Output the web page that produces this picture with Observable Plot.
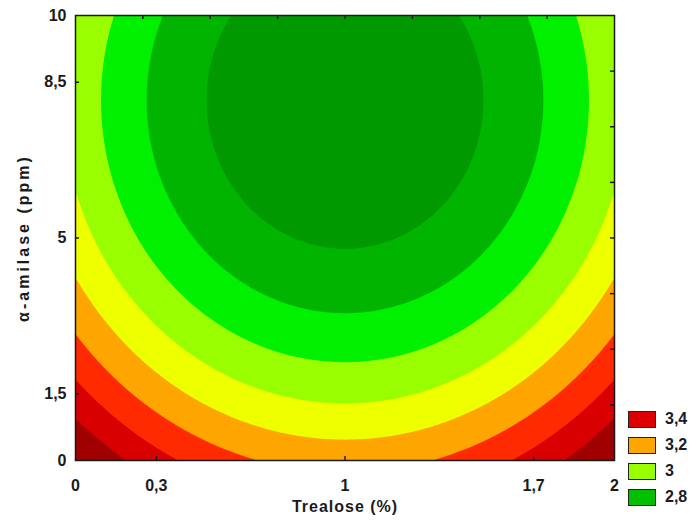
<!DOCTYPE html>
<html>
<head>
<meta charset="utf-8">
<script src="https://cdn.jsdelivr.net/npm/d3@7"></script>
<script src="https://cdn.jsdelivr.net/npm/@observablehq/plot@0.6"></script>
<style>
  html, body { margin: 0; background: #fff; overflow: hidden; }
  #wrap { position: relative; width: 697px; height: 522px; }
  #wrap svg { display: block; }
  .legend { position: absolute; left: 628px; top: 406px; font: bold 16px "Liberation Sans", Arial, sans-serif; color: #1a1a2a; }
  .item { display: flex; align-items: center; height: 26px; }
  .sw { width: 26px; height: 15px; border: 1.5px solid #222; margin-right: 9px; box-sizing: content-box; }
</style>
</head>
<body>
<div id="wrap"></div>
<script>
// Axis domains and ticks
const xDomain = [0, 2];
const yDomain = [0, 10];
const xTicks = [0, 0.3, 1, 1.7, 2];
const xTickLabels = ["0", "0,3", "1", "1,7", "2"];
const yTicks = [0, 1.5, 5, 8.5, 10];
const yTickLabels = ["0", "1,5", "5", "8,5", "10"];
const xInnerBottom = [0.3, 1, 1.7];
const xMinorTop = [0.25, 0.5, 0.75, 1, 1.25, 1.5, 1.75];
const yInnerLeft = [1.5, 5, 8.5];
const yMinorRight = [1.25, 2.5, 3.75, 5, 6.25, 7.5, 8.75];

// Fitted response surface (read from the contour bands):
// z = minimum + cx*(x - x0)^2 + cy*(y - y0)^2
const surfaceCenter = [1, 8.1];            // x0, y0
const surfaceCoef = [2.605, 0.36, 0.0085]; // minimum, cx, cy

// Contour levels and band colours
const thresholds = [2.5, 2.7, 2.8, 2.9, 3.0, 3.1, 3.2, 3.3, 3.4];
const bandColors = ["#009a00", "#00b400", "#00f000", "#99ff00", "#eeff00", "#ffa500", "#ff2a00", "#d80000", "#a00000"];

// Legend
const legendLabels = ["3,4", "3,2", "3", "2,8"];
const legendColors = ["#dd0000", "#ffa500", "#99ff00", "#00c000"];

const xTitle = "Trealose (%)";
const yTitle = "α-amilase (ppm)";

const surface = (x, y) =>
  surfaceCoef[0] +
  surfaceCoef[1] * (x - surfaceCenter[0]) ** 2 +
  surfaceCoef[2] * (y - surfaceCenter[1]) ** 2;

const font = '"Liberation Sans", Arial, sans-serif';
const ink = "#1a1a1a";

const chart = Plot.plot({
  width: 697,
  height: 522,
  marginLeft: 75,
  marginRight: 83,
  marginTop: 15,
  marginBottom: 62,
  style: { fontFamily: font, fontWeight: "bold", color: ink, background: "#fff", overflow: "visible" },
  x: { domain: xDomain },
  y: { domain: yDomain },
  color: { type: "threshold", domain: thresholds.slice(1), range: bandColors },
  marks: [
    Plot.contour({
      x1: xDomain[0], x2: xDomain[1], y1: yDomain[0], y2: yDomain[1],
      fill: surface,
      thresholds,
      stroke: "none"
    }),
    Plot.tickX(xInnerBottom, { insetTop: 441, stroke: ink, strokeWidth: 1.5 }),
    Plot.tickX(xMinorTop, { insetBottom: 441, stroke: ink, strokeWidth: 1.5 }),
    Plot.tickY(yInnerLeft, { insetRight: 535, stroke: ink, strokeWidth: 1.5 }),
    Plot.tickY(yMinorRight, { insetLeft: 535, stroke: ink, strokeWidth: 1.5 }),
    Plot.frame({ stroke: ink, strokeWidth: 1.5 }),
    Plot.axisX(xTicks, {
      tickSize: 0, tickPadding: 19, fontSize: 16, label: null,
      tickFormat: d => xTickLabels[xTicks.indexOf(d)]
    }),
    Plot.axisY(yTicks, {
      tickSize: 0, tickPadding: 9, fontSize: 16, label: null,
      tickFormat: d => yTickLabels[yTicks.indexOf(d)]
    }),
    Plot.text([xTitle], { frameAnchor: "bottom", lineAnchor: "middle", textAnchor: "middle", dy: 46, fontSize: 16, fontWeight: "bold", fill: ink }),
    Plot.text([yTitle], { frameAnchor: "left", lineAnchor: "middle", textAnchor: "middle", dx: -52, rotate: -90, fontSize: 16, fontWeight: "bold", fill: ink })
  ]
});

// spacing of the axis titles as in the original
d3.select(chart).selectAll("text")
  .filter(function () { return this.textContent === yTitle; })
  .attr("letter-spacing", "3px");
d3.select(chart).selectAll("text")
  .filter(function () { return this.textContent === xTitle; })
  .attr("letter-spacing", "1px");

const wrap = document.getElementById("wrap");
wrap.appendChild(chart);

const legend = document.createElement("div");
legend.className = "legend";
legendLabels.forEach((lab, i) => {
  const item = document.createElement("div");
  item.className = "item";
  const sw = document.createElement("div");
  sw.className = "sw";
  sw.style.background = legendColors[i];
  const t = document.createElement("span");
  t.textContent = lab;
  item.appendChild(sw);
  item.appendChild(t);
  legend.appendChild(item);
});
wrap.appendChild(legend);
</script>
</body>
</html>
